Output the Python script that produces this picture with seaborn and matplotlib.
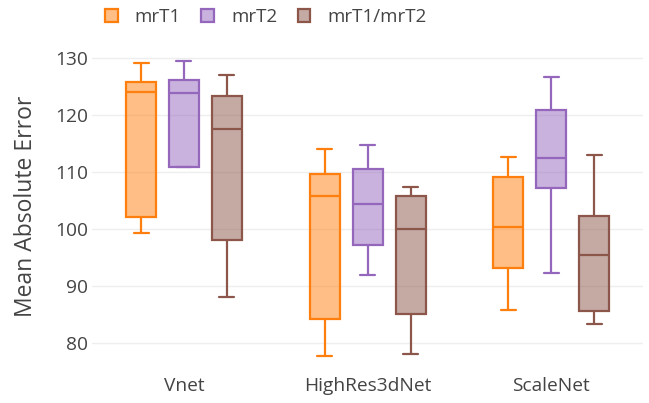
import numpy as np
import pandas as pd
import matplotlib
matplotlib.use("Agg")
import matplotlib.pyplot as plt
from matplotlib.patches import Patch
from matplotlib.colors import to_rgba
import seaborn as sns

# 数据：每行为一个网络的 [min, q1, median, q3, max]
networks = ["Vnet", "HighRes3dNet", "ScaleNet"]
series = ["mrT1", "mrT2", "mrT1/mrT2"]
mrT1 = [[99.4, 102.2, 124.1, 125.8, 129.2],
        [77.8, 84.3, 105.9, 109.7, 114.1],
        [85.8, 93.1, 100.4, 109.1, 112.7]]
mrT2 = [[110.9, 110.9, 123.8, 126.1, 129.5],
        [91.9, 97.3, 104.4, 110.6, 114.7],
        [92.3, 107.3, 112.5, 120.9, 126.7]]
mrT1_mrT2 = [[88.1, 98.1, 117.5, 123.3, 127.0],
             [78.1, 85.1, 100.1, 105.9, 107.4],
             [83.3, 85.6, 95.4, 102.3, 113.0]]
colors = ["#ff7f0e", "#9467bd", "#8c564b"]

rows = []
for name, vals in zip(series, [mrT1, mrT2, mrT1_mrT2]):
    for net, v in zip(networks, vals):
        for x in v:
            rows.append({"net": net, "series": name, "mae": x})
df = pd.DataFrame(rows)

sns.set_style("white")
plt.rcParams['font.family'] = ['Open Sans', 'DejaVu Sans']

fig = plt.figure(figsize=(6.49, 4.03), dpi=100)
ax = fig.add_axes([0.142, 0.092, 0.849, 0.792])

sns.boxplot(data=df, x="net", y="mae", hue="series", order=networks,
            hue_order=series, palette=colors, whis=(0, 100), width=0.70,
            gap=0.30, linewidth=1.6, ax=ax, legend=False)

# plotly 风格：半透明填充 + 同色线条
for cont, c in zip(ax.containers, colors):
    for b in cont.boxes:
        b.set_facecolor(to_rgba(c, 0.5))
        b.set_edgecolor(c)
    for l in list(cont.whiskers) + list(cont.caps) + list(cont.medians):
        l.set_color(c)
        l.set_linewidth(1.6)

ax.set_xlim(-0.5, 2.5)
ax.set_ylim(76, 132)
ax.set_yticks([80, 90, 100, 110, 120, 130])
ax.grid(axis="y", color="#eeeeee", linewidth=1)
ax.set_axisbelow(True)
for s in ax.spines.values():
    s.set_visible(False)
ax.tick_params(axis="both", length=0, labelsize=13.8, labelcolor="#444444", pad=3)
ax.tick_params(axis="x", pad=8)
ax.set_xlabel("")
ax.set_ylabel("Mean Absolute Error", fontsize=16.5, color="#444444", labelpad=12)

handles = [Patch(facecolor=to_rgba(c, 0.5), edgecolor=c, linewidth=1.6) for c in colors]
fig.legend(handles, series, loc="upper left", bbox_to_anchor=(0.162, 0.98), ncol=3,
           frameon=False, fontsize=13.5, labelcolor="#444444", handlelength=0.67,
           handleheight=0.67, columnspacing=1.1, handletextpad=0.9,
           borderpad=0, borderaxespad=0)

fig.savefig("out.png", dpi=100)
